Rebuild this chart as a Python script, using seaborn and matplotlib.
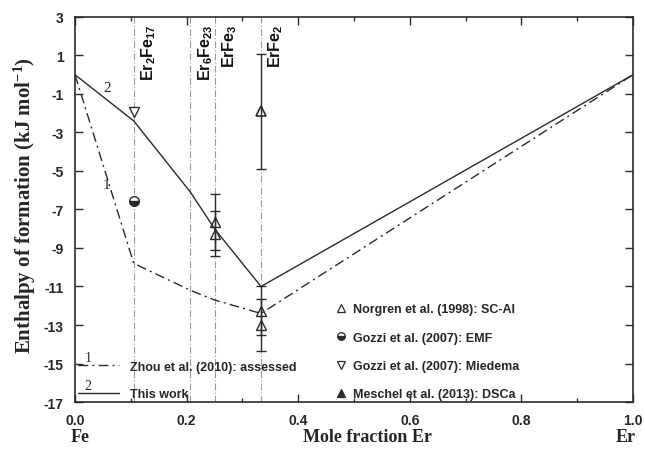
import matplotlib
matplotlib.use("Agg")
import matplotlib.pyplot as plt
from matplotlib.legend_handler import HandlerLine2D
from matplotlib.lines import Line2D
from matplotlib.text import Text
from matplotlib.ticker import MultipleLocator, FormatStrFormatter
import seaborn as sns

# Phase-boundary compositions (mole fraction Er) and calculated enthalpies
phase_x = [0.0, 2 / 19, 6 / 29, 0.25, 1 / 3, 1.0]
this_work = [0.0, -2.4, -6.1, -8.0, -11.0, 0.0]
zhou_2010 = [0.0, -9.8, -11.2, -11.7, -12.4, 0.0]

# Intermetallic compounds marked by vertical guides
compounds = ["Er$_2$Fe$_{17}$", "Er$_6$Fe$_{23}$", "ErFe$_3$", "ErFe$_2$"]
compound_x = [2 / 19, 6 / 29, 0.25, 1 / 3]

# Experimental / estimated enthalpies of formation
norgren_x = [0.25, 0.25, 1 / 3, 1 / 3]
norgren_y = [-7.65, -8.25, -12.25, -13.0]
norgren_err = [1.45, 1.15, 1.25, 1.35]

gozzi_emf_x = [2 / 19]
gozzi_emf_y = [-6.55]

gozzi_miedema_x = [2 / 19]
gozzi_miedema_y = [-1.95]

meschel_x = [1 / 3]
meschel_y = [-1.9]
meschel_err = [3.0]

y_ticks = [3, 1, -1, -3, -5, -7, -9, -11, -13, -15, -17]

sns.set_style("ticks")
plt.rcParams["axes.unicode_minus"] = False
plt.rcParams["mathtext.default"] = "regular"
SANS = "Liberation Sans"
SERIF = "Liberation Serif"
INK = "#2b2b2b"

fig = plt.figure(figsize=(6.45, 4.52), dpi=100)
ax = fig.add_axes([0.1163, 0.1084, 0.8651, 0.8518])

# vertical guides at the compound compositions
for cx, name in zip(compound_x, compounds):
    ax.axvline(cx, color="#9a9a9a", lw=0.8, ls=(0, (6, 2, 1, 2)), zorder=1)
    ax.annotate(name, xy=(cx, 2.65), xytext=(4, 0), textcoords="offset points",
                rotation=90, ha="left", va="top", fontsize=11.5,
                fontweight="bold", family=SANS, color="#111111")

zhou_style = (0, (7, 3, 1.5, 3))
sns.lineplot(x=phase_x, y=zhou_2010, ax=ax, color=INK, lw=1.0,
             linestyle=zhou_style, sort=False, zorder=2)
sns.lineplot(x=phase_x, y=this_work, ax=ax, color=INK, lw=1.0,
             sort=False, zorder=2)

ax.text(0.057, -0.64, "2", family=SERIF, fontsize=11, ha="center", va="center", color=INK)
ax.text(0.057, -5.7, "1", family=SERIF, fontsize=11, ha="center", va="center", color=INK)

# error bars
ax.errorbar(norgren_x, norgren_y, yerr=norgren_err, fmt="none",
            ecolor=INK, elinewidth=1.0, capsize=3.5, capthick=1.0, zorder=3)
ax.errorbar(meschel_x, meschel_y, yerr=meschel_err, fmt="none",
            ecolor=INK, elinewidth=1.0, capsize=3.5, capthick=1.0, zorder=3)

# markers
ax.plot(norgren_x, norgren_y, ls="none", marker="^", ms=7.5, mfc="none",
        mec=INK, mew=1.0, zorder=4)
ax.plot(gozzi_emf_x, gozzi_emf_y, ls="none", marker="o", ms=7,
        fillstyle="bottom", mfc=INK, mfcalt="white", mec=INK, mew=1.0, zorder=4)
ax.plot(gozzi_miedema_x, gozzi_miedema_y, ls="none", marker="v", ms=7.5,
        mfc="white", mec=INK, mew=1.0, zorder=4)
ax.plot(meschel_x, meschel_y, ls="none", marker="^", ms=7.5, mfc="none",
        mec=INK, mew=1.2, zorder=4)

ax.set_xlim(0, 1)
ax.set_ylim(-17, 3)
ax.xaxis.set_major_locator(MultipleLocator(0.2))
ax.xaxis.set_minor_locator(MultipleLocator(0.1))
ax.xaxis.set_major_formatter(FormatStrFormatter("%.1f"))
ax.set_yticks(y_ticks)
ax.tick_params(which="both", direction="in", top=True, right=True,
               color=INK, width=1.0)
ax.tick_params(which="major", length=6, labelsize=10, pad=8)
ax.tick_params(which="minor", length=3)
for lab in ax.get_xticklabels() + ax.get_yticklabels():
    lab.set_fontweight("bold")
    lab.set_family(SANS)
for sp in ax.spines.values():
    sp.set_linewidth(1.2)
    sp.set_color(INK)

ax.set_ylabel("Enthalpy of formation (kJ mol$^{-1}$)", family=SERIF,
              fontweight="bold", fontsize=15)
ax.yaxis.set_label_coords(-0.066, 0.514)
ax.set_xlabel("")
fig.text(0.569, 0.033, "Mole fraction Er", family=SERIF, fontweight="bold",
         fontsize=13, ha="center", va="center")
fig.text(0.124, 0.033, "Fe", family=SERIF, fontweight="bold",
         fontsize=13, ha="center", va="center")
fig.text(0.970, 0.033, "Er", family=SERIF, fontweight="bold",
         fontsize=13, ha="center", va="center")


class NumberedLine(HandlerLine2D):
    """Legend line with a small curve number written above its left end."""

    def __init__(self, number, **kw):
        super().__init__(**kw)
        self.number = number

    def create_artists(self, legend, orig_handle, xdescent, ydescent,
                       width, height, fontsize, trans):
        arts = super().create_artists(legend, orig_handle, xdescent, ydescent,
                                      width, height, fontsize, trans)
        t = Text(-xdescent + width * 0.25, -ydescent + height * 0.5 + 1,
                 self.number, ha="center", va="bottom", fontsize=10,
                 family=SERIF, color=INK, transform=trans)
        return arts + [t]


h_zhou = Line2D([], [], color=INK, lw=1.0, ls=zhou_style)
h_this = Line2D([], [], color=INK, lw=1.0)
leg1 = ax.legend([h_zhou, h_this],
                 ["Zhou et al. (2010): assessed", "This work"],
                 handler_map={h_zhou: NumberedLine("1"), h_this: NumberedLine("2")},
                 loc="upper left", bbox_to_anchor=(0.005, 0.107), frameon=False,
                 borderpad=0, borderaxespad=0, handlelength=3.3,
                 handletextpad=0.9, labelspacing=1.25,
                 prop={"family": SANS, "weight": "bold", "size": 9})
ax.add_artist(leg1)

hm = [
    Line2D([], [], ls="none", marker="^", ms=6, mfc="none", mec=INK, mew=0.9),
    Line2D([], [], ls="none", marker="o", ms=5.5, fillstyle="bottom",
           mfc=INK, mfcalt="white", mec=INK, mew=0.9),
    Line2D([], [], ls="none", marker="v", ms=6, mfc="none", mec=INK, mew=0.9),
    Line2D([], [], ls="none", marker="^", ms=6, mfc=INK, mec=INK, mew=0.9),
]
ax.legend(hm, ["Norgren et al. (1998): SC-Al", "Gozzi et al. (2007): EMF",
               "Gozzi et al. (2007): Miedema", "Meschel et al. (2013): DSCa"],
          loc="upper left", bbox_to_anchor=(0.465, 0.256), frameon=False,
          borderpad=0, borderaxespad=0, handlelength=1.0, handletextpad=0.5,
          labelspacing=1.3, prop={"family": SANS, "weight": "bold", "size": 9})

fig.savefig("out.png", dpi=100)
